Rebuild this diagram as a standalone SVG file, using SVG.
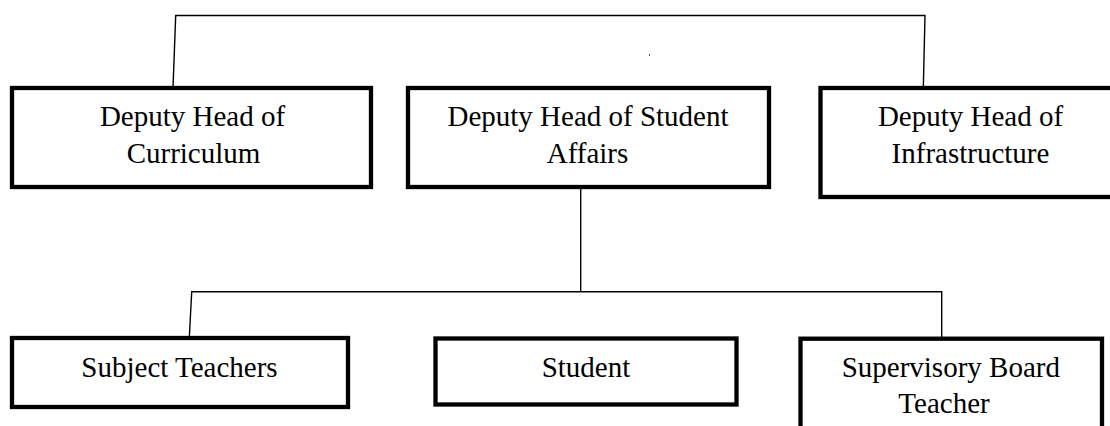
<svg xmlns="http://www.w3.org/2000/svg" width="1110" height="426" viewBox="0 0 1110 426">
<style>
.box{fill:#fff;stroke:#000;stroke-width:4.3}
.lbl{font-family:"Liberation Serif","Times New Roman",serif;font-size:29px;fill:#000;text-anchor:middle}
.conn{fill:none;stroke:#000;stroke-width:1.4}
</style>
<rect width="1110" height="426" fill="#fff"/>
<g id="connectors">
<polyline class="conn" points="173,88 175.7,15.5 925,15.5 923.3,88"/>
<line class="conn" x1="580.7" y1="189" x2="580.7" y2="291.7"/>
<polyline class="conn" points="189.3,338 191.7,291.7 941.7,291.7 941.7,338"/>
</g>
<rect x="649" y="54" width="1" height="2" fill="#555"/>
<g id="node-curriculum">
<rect class="box" x="12" y="88" width="359" height="99"/>
<text class="lbl" x="192.5" y="126">Deputy Head of</text>
<text class="lbl" x="193.5" y="163">Curriculum</text>
</g>
<g id="node-student-affairs">
<rect class="box" x="408" y="88" width="361" height="99"/>
<text class="lbl" x="588" y="126">Deputy Head of Student</text>
<text class="lbl" x="587.5" y="163">Affairs</text>
</g>
<g id="node-infrastructure">
<rect class="box" x="820.5" y="88" width="301" height="109"/>
<text class="lbl" x="970.5" y="126">Deputy Head of</text>
<text class="lbl" x="970.5" y="163">Infrastructure</text>
</g>
<g id="node-subject-teachers">
<rect class="box" x="12" y="338" width="336" height="69"/>
<text class="lbl" x="179.5" y="376.5">Subject Teachers</text>
</g>
<g id="node-student">
<rect class="box" x="435.5" y="338.5" width="301" height="66"/>
<text class="lbl" x="586" y="376.5">Student</text>
</g>
<g id="node-supervisory">
<rect class="box" x="800.5" y="338.7" width="301.5" height="110"/>
<text class="lbl" x="950.8" y="376.5">Supervisory Board</text>
<text class="lbl" x="944" y="413.3">Teacher</text>
</g>
</svg>
